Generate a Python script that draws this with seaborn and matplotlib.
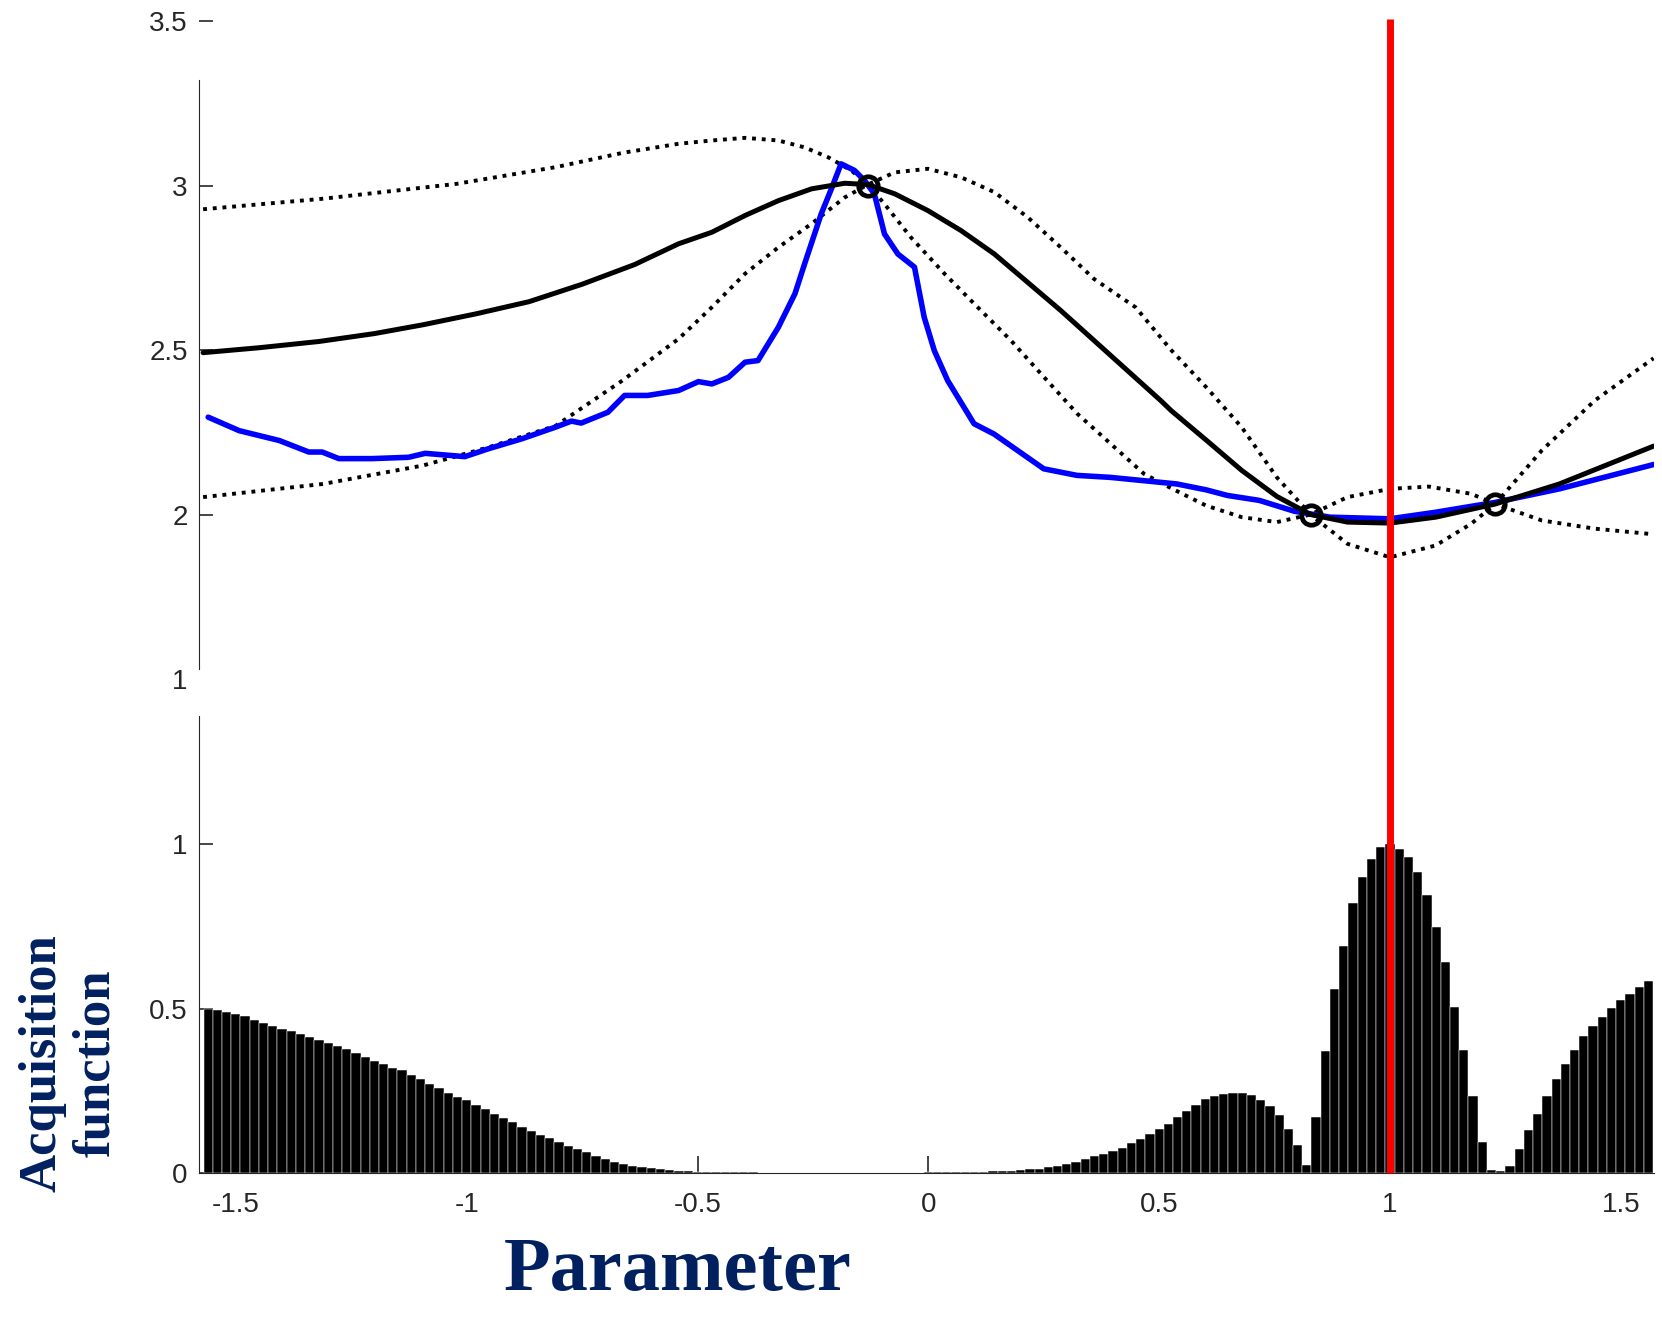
import numpy as np
import matplotlib
matplotlib.use("Agg")
import matplotlib.pyplot as plt
import seaborn as sns

# ---------------- DATA ----------------
# posterior mean (solid black)
mean_x = [-1.571, -1.450, -1.320, -1.200, -1.094, -0.980, -0.865, -0.750, -0.636, -0.541,
          -0.469, -0.397, -0.325, -0.253, -0.181, -0.131, -0.073, -0.001, 0.071, 0.143,
          0.215, 0.287, 0.359, 0.431, 0.503, 0.526, 0.603, 0.679, 0.755, 0.828,
          0.908, 1.000, 1.099, 1.228, 1.367, 1.571]
mean_y = [2.492, 2.507, 2.526, 2.550, 2.577, 2.610, 2.647, 2.700, 2.760, 2.823,
          2.858, 2.909, 2.954, 2.990, 3.007, 3.003, 2.975, 2.924, 2.863, 2.792,
          2.706, 2.620, 2.529, 2.438, 2.347, 2.316, 2.225, 2.134, 2.055, 2.000,
          1.977, 1.974, 1.992, 2.032, 2.093, 2.208]

# confidence bounds (dotted)
bound_a_x = [-1.571, -1.311, -1.023, -0.807, -0.660, -0.541, -0.469, -0.397, -0.325, -0.268,
             -0.217, -0.167, -0.131, -0.095, -0.038, 0.035, 0.107, 0.179, 0.251, 0.323,
             0.395, 0.467, 0.526, 0.602, 0.679, 0.755, 0.828, 0.908, 1.000, 1.084,
             1.176, 1.228, 1.329, 1.444, 1.571]
bound_a_y = [2.928, 2.960, 3.005, 3.056, 3.100, 3.127, 3.137, 3.145, 3.137, 3.116,
             3.086, 3.046, 3.003, 2.944, 2.843, 2.732, 2.630, 2.529, 2.417, 2.306,
             2.215, 2.124, 2.080, 2.027, 1.992, 1.977, 2.000, 2.053, 2.078, 2.085,
             2.063, 2.032, 1.982, 1.957, 1.940]

bound_b_x = [-1.571, -1.311, -1.095, -0.951, -0.807, -0.663, -0.541, -0.469, -0.397, -0.325,
             -0.253, -0.181, -0.131, -0.073, -0.001, 0.071, 0.143, 0.215, 0.287, 0.359,
             0.449, 0.526, 0.602, 0.679, 0.755, 0.828, 0.908, 1.000, 1.099, 1.176,
             1.228, 1.329, 1.444, 1.571]
bound_b_y = [2.053, 2.093, 2.149, 2.205, 2.270, 2.407, 2.534, 2.630, 2.732, 2.812,
             2.884, 2.964, 3.003, 3.040, 3.051, 3.025, 2.980, 2.904, 2.812, 2.716,
             2.630, 2.500, 2.387, 2.265, 2.113, 2.000, 1.911, 1.870, 1.906, 1.972,
             2.032, 2.195, 2.347, 2.475]

# true objective (blue)
true_x = [-1.560, -1.493, -1.406, -1.342, -1.313, -1.277, -1.205, -1.126, -1.090, -1.004,
          -0.953, -0.881, -0.809, -0.773, -0.752, -0.694, -0.658, -0.608, -0.541, -0.498,
          -0.469, -0.433, -0.397, -0.369, -0.325, -0.289, -0.268, -0.232, -0.210, -0.189,
          -0.160, -0.138, -0.117, -0.095, -0.066, -0.030, -0.009, 0.013, 0.042, 0.099,
          0.142, 0.193, 0.250, 0.322, 0.394, 0.466, 0.538, 0.602, 0.648, 0.717,
          0.793, 0.870, 1.000, 1.099, 1.228, 1.367, 1.571]
true_y = [2.296, 2.255, 2.225, 2.190, 2.190, 2.170, 2.170, 2.174, 2.186, 2.176,
          2.200, 2.230, 2.265, 2.284, 2.278, 2.311, 2.362, 2.362, 2.377, 2.404,
          2.397, 2.417, 2.463, 2.468, 2.569, 2.671, 2.762, 2.914, 2.990, 3.066,
          3.046, 3.015, 2.975, 2.853, 2.792, 2.752, 2.600, 2.498, 2.407, 2.276,
          2.245, 2.195, 2.139, 2.119, 2.113, 2.103, 2.093, 2.075, 2.058, 2.043,
          2.010, 1.992, 1.987, 2.007, 2.037, 2.078, 2.152]

# observations
obs_x = [-0.131, 0.828, 1.228]
obs_y = [3.0, 2.0, 2.032]

# next sample
next_x = 1.0

# acquisition function, x from -1.56 to 1.56 in steps of 0.02
acq_x = np.round(np.arange(-1.56, 1.5601, 0.02), 2)
acq_y = [0.500, 0.497, 0.489, 0.483, 0.476, 0.466, 0.457, 0.448, 0.439, 0.431,
         0.424, 0.414, 0.404, 0.396, 0.387, 0.377, 0.366, 0.353, 0.341, 0.330,
         0.320, 0.312, 0.298, 0.285, 0.271, 0.257, 0.244, 0.232, 0.222, 0.208,
         0.195, 0.180, 0.166, 0.154, 0.141, 0.129, 0.117, 0.105, 0.093, 0.083,
         0.074, 0.064, 0.053, 0.043, 0.035, 0.028, 0.022, 0.018, 0.015, 0.012,
         0.009, 0.007, 0.005, 0.004, 0.003, 0.003, 0.002, 0.002, 0.002, 0.002,
         0.001, 0.001, 0.001, 0.001, 0.001, 0.000, 0.000, 0.000, 0.000, 0.000,
         0.000, 0.000, 0.000, 0.000, 0.000, 0.000, 0.000, 0.000, 0.002, 0.003,
         0.003, 0.003, 0.003, 0.003, 0.004, 0.005, 0.006, 0.007, 0.009, 0.011,
         0.013, 0.017, 0.021, 0.026, 0.033, 0.043, 0.052, 0.059, 0.066, 0.077,
         0.090, 0.104, 0.118, 0.133, 0.150, 0.170, 0.190, 0.208, 0.224, 0.234,
         0.241, 0.244, 0.243, 0.236, 0.222, 0.205, 0.177, 0.135, 0.085, 0.025,
         0.170, 0.370, 0.560, 0.690, 0.820, 0.900, 0.955, 0.990, 1.000, 0.985,
         0.960, 0.915, 0.845, 0.748, 0.640, 0.505, 0.375, 0.235, 0.095, 0.010,
         0.005, 0.022, 0.073, 0.130, 0.180, 0.235, 0.285, 0.330, 0.373, 0.416,
         0.447, 0.475, 0.502, 0.526, 0.545, 0.565, 0.585]
assert len(acq_x) == len(acq_y)

top_yticks = [1.5, 2, 2.5, 3, 3.5]
top_ylabels = ["1", "2", "2.5", "3", "3.5"]
bot_yticks = [0, 0.5, 1]
bot_ylabels = ["0", "0.5", "1"]
xticks = [-1.5, -1, -0.5, 0, 0.5, 1, 1.5]
xlabels = ["-1.5", "-1", "-0.5", "0", "0.5", "1", "1.5"]

# ---------------- STYLE ----------------
sns.set_style("ticks")
plt.rcParams["font.family"] = ["Liberation Sans", "DejaVu Sans"]
plt.rcParams["axes.unicode_minus"] = False

NAVY = "#002060"
XLIM = (-1.58, 1.572)
TOP_H = 0.4936
BOT_H = 0.3702

fig = plt.figure(figsize=(16.62, 13.33), dpi=100)
ax1 = fig.add_axes([0.1197, 0.4906, 0.8755, TOP_H])
ax2 = fig.add_axes([0.1197, 0.12, 0.8755, BOT_H])

# ---------------- TOP PANEL ----------------
dots = (0, (1, 1.5))
sns.lineplot(x=bound_a_x, y=bound_a_y, ax=ax1, color="black", lw=2.8,
             linestyle=dots, estimator=None, sort=False)
sns.lineplot(x=bound_b_x, y=bound_b_y, ax=ax1, color="black", lw=2.8,
             linestyle=dots, estimator=None, sort=False)
sns.lineplot(x=true_x, y=true_y, ax=ax1, color="#0000ff", lw=4.0,
             estimator=None, sort=False)
sns.lineplot(x=mean_x, y=mean_y, ax=ax1, color="black", lw=3.6,
             estimator=None, sort=False)
ax1.plot(obs_x, obs_y, "o", mfc="none", mec="black", ms=14, mew=3.4, zorder=5)

ax1.set_xlim(*XLIM)
ax1.set_ylim(1.5, 3.5)
ax1.set_xticks([])
ax1.set_yticks(top_yticks)
ax1.set_yticklabels(top_ylabels)
ax1.yaxis.get_major_ticks()[0].tick1line.set_visible(False)
for s in ["top", "right", "bottom"]:
    ax1.spines[s].set_visible(False)
ax1.spines["left"].set_bounds(1.53, 3.32)
ax1.tick_params(axis="y", direction="in", length=10, width=1.2, labelsize=20, pad=8)
ax1.set_xlabel("")
ax1.set_ylabel("")

# ---------------- BOTTOM PANEL ----------------
ax2.bar(acq_x, acq_y, width=0.02, color="black", edgecolor="white", linewidth=0.35, zorder=2)
# red marker of the next sample, one line through both panels
ax2.axvline(next_x, ymin=0, ymax=1 + (TOP_H + 0.002) / BOT_H, color="#ff0000",
            lw=5, zorder=6, clip_on=False, solid_capstyle="butt")
ax2.set_axisbelow(True)

ax2.set_xlim(*XLIM)
ax2.set_ylim(0, 1.5)
ax2.set_yticks(bot_yticks)
ax2.set_yticklabels(bot_ylabels)
ax2.set_xticks(xticks)
ax2.set_xticklabels(xlabels)
for s in ["top", "right"]:
    ax2.spines[s].set_visible(False)
ax2.spines["left"].set_bounds(0, 1.39)
ax2.tick_params(axis="y", direction="in", length=10, width=1.2, labelsize=20, pad=8)
ax2.tick_params(axis="x", direction="in", length=12, width=1.2, labelsize=20, pad=14)

# ---------------- LABELS ----------------
fig.text(0.0415, 0.2026, "Acquisition\nfunction", rotation=90, ha="center", va="center",
         multialignment="center", fontsize=38, fontweight="bold", color=NAVY,
         family=["Liberation Serif", "DejaVu Serif"], linespacing=1.15)
fig.text(0.408, 0.0458, "Parameter", ha="center", va="center", fontsize=55,
         fontweight="bold", color=NAVY, family=["Liberation Serif", "DejaVu Serif"])

fig.savefig("out.png", dpi=100)
